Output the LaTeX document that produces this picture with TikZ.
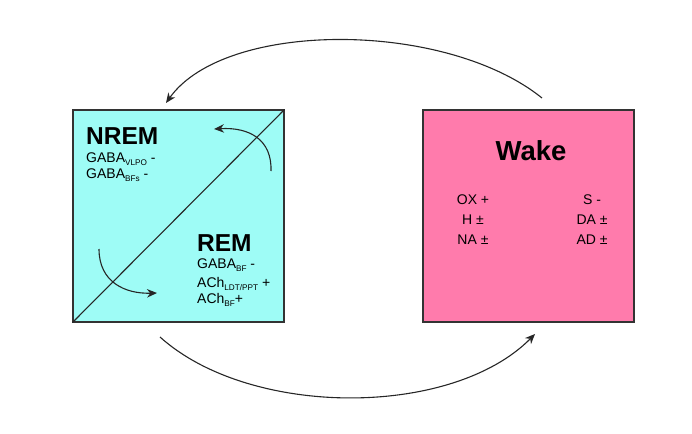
\documentclass[tikz,border=0pt]{standalone}
\usepackage{fontspec}
\setmainfont{Liberation Sans}
\usetikzlibrary{arrows.meta}
\definecolor{cyanfill}{HTML}{9EFCF6}
\definecolor{pinkfill}{HTML}{FF7BAC}
\definecolor{edge}{HTML}{333333}
\newcommand{\sbs}[1]{\raisebox{-3.4pt}{\fontsize{8.2}{9}\selectfont #1}}
\tikzset{
  statebox/.style={draw=edge, line width=1.2pt, inner sep=0pt, minimum width=211pt, minimum height=212pt},
  cyc/.style={line width=1.1pt, draw=black!85, -{Stealth[length=10pt,width=8.5pt]}},
  big/.style={font=\fontsize{24.5}{28}\selectfont\bfseries, inner sep=0pt},
  small/.style={font=\fontsize{14}{16}\selectfont, inner sep=0pt},
}
\begin{document}
\begin{tikzpicture}[x=1pt,y=-1pt]
\useasboundingbox (0,0) rectangle (692,433);
\node[statebox, fill=cyanfill] (sleep) at (178.5,216) {};
\node[statebox, fill=pinkfill] (wake) at (528.5,216) {};
\draw[line width=1.1pt, draw=black!85] (sleep.south west) -- (sleep.north east);
% texts
\node[big, anchor=base west] (nrem) at (86,144) {NREM};
\node[small, anchor=base west] (g1) at (86,162) {GABA\sbs{VLPO} -};
\node[small, anchor=base west] (g2) at (86,178) {GABA\sbs{BFs} -};
\node[big, anchor=base west] (rem) at (197,251) {REM};
\node[small, anchor=base west] (r1) at (197,268) {GABA\sbs{BF} -};
\node[small, anchor=base west] (r2) at (197,287) {ACh\sbs{LDT/PPT} +};
\node[small, anchor=base west] (r3) at (197,303) {ACh\sbs{BF}+};
\node[big, font=\fontsize{27.5}{30}\selectfont\bfseries, anchor=base] (wk) at (531,160) {Wake};
\node[small, anchor=base] (w1) at (473,204) {OX +};
\node[small, anchor=base] (w2) at (473,224) {H ±};
\node[small, anchor=base] (w3) at (473,244) {NA ±};
\node[small, anchor=base] (w4) at (592,204) {S -};
\node[small, anchor=base] (w5) at (592,224) {DA ±};
\node[small, anchor=base] (w6) at (592,244) {AD ±};
% connectors
\coordinate (ts) at (542,98);
\coordinate (te) at (166,103);
\coordinate (bs) at (160,337);
\coordinate (be) at (535,334);
\coordinate (is1) at (271,171);
\coordinate (ie1) at (214,129);
\coordinate (is2) at (99,249);
\coordinate (ie2) at (157,293);
\draw[cyc] (ts) .. controls (445,20) and (225,20) .. (te);
\draw[cyc] (bs) .. controls (250,418) and (452,418) .. (be);
\draw[cyc] (is1) .. controls (272,140) and (250,127) .. (ie1);
\draw[cyc] (is2) .. controls (99,282) and (125,294) .. (ie2);
\end{tikzpicture}
\end{document}
